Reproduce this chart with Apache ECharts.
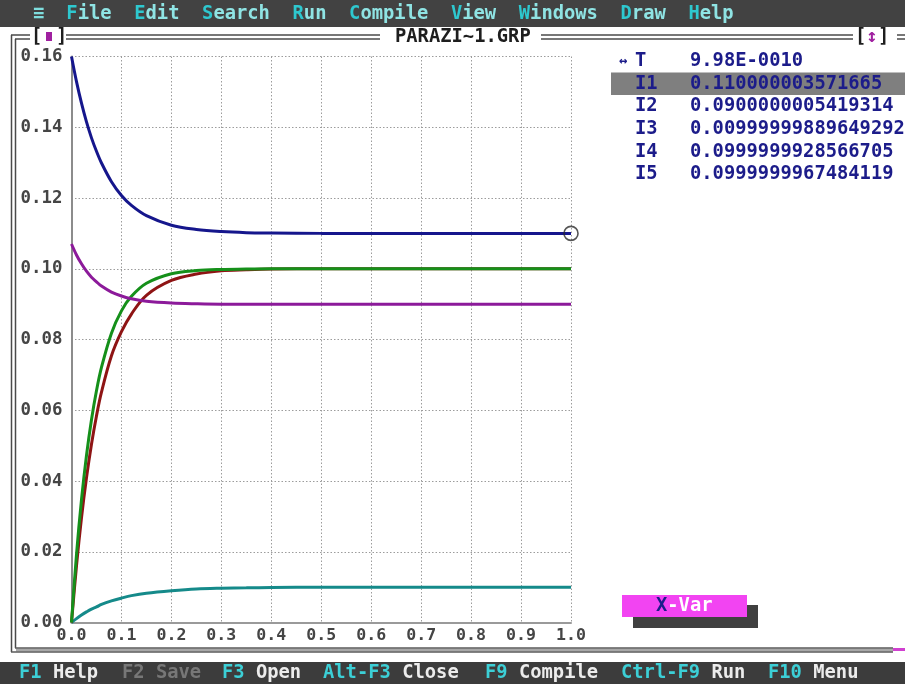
<!DOCTYPE html>
<html>
<head>
<meta charset="utf-8">
<script src="https://cdn.jsdelivr.net/npm/echarts@6/dist/echarts.min.js"></script>
<style>
  html, body { margin: 0; padding: 0; background: #ffffff; }
  #chart { width: 905px; height: 684px; }
</style>
</head>
<body>
<div id="chart"></div>
<script>
// Simulation time samples (s) and branch currents (A)
const timeValues = [0, 0.01, 0.02, 0.03, 0.04, 0.05, 0.06, 0.08, 0.10, 0.12, 0.15, 0.20, 0.25, 0.30, 0.35, 0.40, 0.50, 0.60, 0.70, 0.80, 0.90, 1.00];
const i1Values = [0.1600, 0.1529, 0.1468, 0.1415, 0.1370, 0.1332, 0.1299, 0.1246, 0.1207, 0.1179, 0.1150, 0.1123, 0.1111, 0.1105, 0.1102, 0.1101, 0.1100, 0.1100, 0.1100, 0.1100, 0.1100, 0.1100];
const i2Values = [0.1070, 0.1039, 0.1014, 0.0993, 0.0976, 0.0963, 0.0951, 0.0934, 0.0923, 0.0915, 0.0908, 0.0903, 0.0901, 0.0900, 0.0900, 0.0900, 0.0900, 0.0900, 0.0900, 0.0900, 0.0900, 0.0900];
const i3Values = [0, 0.0011, 0.0021, 0.0030, 0.0038, 0.0044, 0.0051, 0.0061, 0.0069, 0.0076, 0.0083, 0.0090, 0.0095, 0.0097, 0.0098, 0.0099, 0.0100, 0.0100, 0.0100, 0.0100, 0.0100, 0.0100];
const i4Values = [0, 0.0192, 0.0347, 0.0472, 0.0573, 0.0655, 0.0721, 0.0818, 0.0881, 0.0922, 0.0959, 0.0986, 0.0995, 0.0998, 0.0999, 0.1000, 0.1000, 0.1000, 0.1000, 0.1000, 0.1000, 0.1000];
const i5Values = [0, 0.0160, 0.0296, 0.0409, 0.0504, 0.0584, 0.0651, 0.0754, 0.0822, 0.0872, 0.0925, 0.0967, 0.0985, 0.0994, 0.0997, 0.0999, 0.1000, 0.1000, 0.1000, 0.1000, 0.1000, 0.1000];

// Axis ranges
const xRange = [0, 1.0, 0.1];
const yRange = [0, 0.16, 0.02];

// Cursor readout panel
const cursorLabel = 'T';
const cursorValue = '9.98E-0010';
const readoutNames = ['I1', 'I2', 'I3', 'I4', 'I5'];
const readoutValues = ['0.110000003571665', '0.0900000005419314', '0.00999999889649292', '0.0999999928566705', '0.0999999967484119'];

// IDE menu and status line
const menuItems = ['File', 'Edit', 'Search', 'Run', 'Compile', 'View', 'Windows', 'Draw', 'Help'];
const statusKeys = [['F1', 'Help'], ['F2', 'Save'], ['F3', 'Open'], ['Alt-F3', 'Close'], ['F9', 'Compile'], ['Ctrl-F9', 'Run'], ['F10', 'Menu']];
const windowTitle = 'PARAZI~1.GRP';

const FONT = '"DejaVu Sans Mono", "Liberation Mono", monospace';
const CW = 11.31; // text cell width

const chart = echarts.init(document.getElementById('chart'), null, { renderer: 'canvas' });

function txt(x, y, s, fill, opts) {
  opts = opts || {};
  return {
    type: 'text', x: x, y: y, z: opts.z || 10,
    style: {
      text: s, fill: fill,
      font: (opts.weight || 'bold') + ' ' + (opts.size || 18.8) + 'px ' + FONT,
      textAlign: opts.align || 'left', align: opts.align || 'left',
      textVerticalAlign: 'middle', verticalAlign: 'middle'
    }
  };
}
function hline(x1, x2, y, color, w) {
  return { type: 'line', z: 5, shape: { x1: x1, y1: y, x2: x2, y2: y }, style: { stroke: color, lineWidth: w || 1.5 } };
}
function vline(x, y1, y2, color, w) {
  return { type: 'line', z: 5, shape: { x1: x, y1: y1, x2: x, y2: y2 }, style: { stroke: color, lineWidth: w || 1.5 } };
}
function rect(x, y, w, h, fill, z) {
  return { type: 'rect', z: z || 3, shape: { x: x, y: y, width: w, height: h }, style: { fill: fill } };
}

const graphics = [];

// Menu bar
graphics.push(rect(0, 0, 905, 27, '#424242'));
graphics.push(txt(33, 14, '\u2261', '#7fdede'));
const menuCols = [6, 12, 18, 26, 31, 40, 46, 55, 61];
menuItems.forEach(function (name, i) {
  const x = menuCols[i] * CW - 1.5;
  graphics.push(txt(x, 14, name.charAt(0), '#2ec8cf'));
  graphics.push(txt(x + CW, 14, name.slice(1), '#8fe4e4'));
});

// Window frame (double border)
const frameC = '#4a4a4a';
graphics.push(hline(11, 30, 35, frameC));
graphics.push(hline(15, 30, 39, frameC));
graphics.push(hline(66, 380, 35, frameC));
graphics.push(hline(66, 380, 39, frameC));
graphics.push(hline(541, 853, 35, frameC));
graphics.push(hline(541, 853, 39, frameC));
graphics.push(hline(897, 905, 35, frameC));
graphics.push(hline(897, 905, 39, frameC));
graphics.push(vline(11.5, 35, 652, frameC));
graphics.push(vline(15.5, 39, 648, frameC));
graphics.push(hline(11, 893, 652, '#5a5a5a'));
graphics.push(hline(15, 893, 648, '#5a5a5a'));
graphics.push(rect(16, 648.5, 877, 3, '#a8a8a8', 4));
graphics.push(rect(893, 648, 12, 3, '#d040d0', 4));
graphics.push(txt(31, 37, '[', '#1e1e1e'));
graphics.push(rect(46, 32, 6, 9, '#a020a0', 6));
graphics.push(txt(56, 37, ']', '#1e1e1e'));
graphics.push(txt(395, 37, windowTitle, '#1e1e1e'));
graphics.push(txt(855, 37, '[', '#1e1e1e'));
graphics.push(txt(866, 37, '\u2195', '#a020a0'));
graphics.push(txt(878, 37, ']', '#1e1e1e'));

// Cursor readout panel
const panelC = '#1c1c8a';
graphics.push(rect(611, 72.5, 294, 22.5, '#7f7f7f', 2));
graphics.push(txt(619, 61, '\u2194', panelC, { size: 14 }));
graphics.push(txt(635, 61, cursorLabel, panelC));
graphics.push(txt(690, 61, cursorValue, panelC));
const rowY = [84, 106.5, 129, 152, 174.5];
readoutNames.forEach(function (name, i) {
  graphics.push(txt(635, rowY[i], name, panelC));
  graphics.push(txt(690, rowY[i], readoutValues[i], panelC));
});

// X-Var button with shadow
graphics.push(rect(633, 605, 125, 23, '#404040', 2));
graphics.push(rect(622, 595, 125, 22, '#f244f2', 3));
graphics.push(txt(656, 606, 'X', '#1c1c8a'));
graphics.push(txt(656 + CW, 606, '-Var', '#ffffff'));

// Status line
graphics.push(rect(0, 662, 905, 22, '#3c3c3c'));
const statusX = [19, 122, 222, 323, 485, 621, 768];
statusKeys.forEach(function (pair, i) {
  const disabled = pair[0] === 'F2';
  const x = statusX[i];
  graphics.push(txt(x, 673, pair[0], disabled ? '#777777' : '#3ccfd6'));
  graphics.push(txt(x + (pair[0].length + 1) * CW, 673, pair[1], disabled ? '#777777' : '#ececec'));
});

function pairs(values) {
  return timeValues.map(function (t, i) { return [t, values[i]]; });
}
function curve(name, values, color) {
  return {
    name: name, type: 'line', data: pairs(values), smooth: 0.35,
    symbol: 'none', lineStyle: { color: color, width: 3 }, z: 3
  };
}
const last = timeValues.length - 1;

const option = {
  animation: false,
  backgroundColor: '#ffffff',
  grid: { left: 71.5, right: 334, top: 56.5, bottom: 61.5, containLabel: false },
  xAxis: {
    type: 'value', min: xRange[0], max: xRange[1], interval: xRange[2],
    axisLine: { show: true, lineStyle: { color: '#9a9a9a', width: 2 } },
    axisTick: { show: false },
    axisLabel: {
      margin: 5, color: '#454545', fontFamily: FONT, fontWeight: 'bold', fontSize: 16.6,
      formatter: function (v) { return v.toFixed(1); }
    },
    splitLine: { show: true, lineStyle: { color: '#9c9c9c', width: 1, type: [1.5, 2] } }
  },
  yAxis: {
    type: 'value', min: yRange[0], max: yRange[1], interval: yRange[2],
    axisLine: { show: true, lineStyle: { color: '#8c8c8c', width: 2 } },
    axisTick: { show: false },
    axisLabel: {
      margin: 9, color: '#454545', fontFamily: FONT, fontWeight: 'bold', fontSize: 17.4,
      formatter: function (v) { return v.toFixed(2); }
    },
    splitLine: { show: true, lineStyle: { color: '#9c9c9c', width: 1, type: [1.5, 2] } }
  },
  series: [
    curve('I3', i3Values, '#158a8a'),
    curve('I5', i5Values, '#8e1414'),
    curve('I4', i4Values, '#15901a'),
    curve('I2', i2Values, '#8c1a9a'),
    curve('I1', i1Values, '#15168c'),
    {
      name: 'cursor', type: 'scatter', z: 6,
      data: [[timeValues[last], i1Values[last]]],
      symbol: 'circle', symbolSize: 14,
      itemStyle: { color: 'rgba(0,0,0,0)', borderColor: '#2a2a2a', borderWidth: 1.6 }
    }
  ],
  graphic: graphics
};

chart.setOption(option);
</script>
</body>
</html>
